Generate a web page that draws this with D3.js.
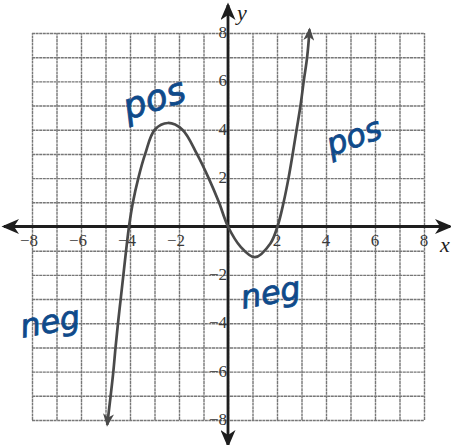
<!DOCTYPE html>
<html>
<head>
<meta charset="utf-8">
<script src="https://cdn.jsdelivr.net/npm/d3@7"></script>
<style>
  body { margin: 0; background: #fff; }
  svg { display: block; }
</style>
</head>
<body>
<svg id="chart" width="451" height="445"></svg>
<script>
// grid / tick values
var gridValues = d3.range(-8, 9, 1);
var xTickLabels = [-8, -6, -4, -2, 2, 4, 6, 8];
var yTickLabels = [8, 6, 4, 2, -2, -4, -6, -8];

// curve
var curveX = [-4.93, -4.79, -4.68, -4.59, -4.49, -4.38, -4.27, -4.16, -4.04, -3.88, -3.66, -3.38, -2.99, -2.45, -1.86, -1.27, -0.79, -0.37, 0, 0.51, 1.1, 1.73, 2.02, 2.27, 2.47, 2.64, 2.8, 2.96, 3.09, 3.23, 3.33];
var curveY = [-8.2, -7, -6, -5, -4, -3, -2, -1, 0, 1, 2, 3, 4, 4.28, 4, 3, 2, 1, 0, -0.83, -1.27, -0.7, 0, 1, 2, 3, 4, 5, 6, 7, 8.15];

// handwritten notes
var noteText = ["pos", "pos", "neg", "neg"];
var noteX = [-4.1, 4.2, -8.4, 0.6];
var noteY = [4.4, 2.9, -4.6, -3.4];
var noteAngle = [-18, -20, -10, -10];

var serif = "'Liberation Serif', 'Times New Roman', 'DejaVu Serif', serif";

var svg = d3.select("#chart");

var x = d3.scaleLinear().domain([-8, 8]).range([32, 424]);
var y = d3.scaleLinear().domain([-8, 8]).range([420, 33]);

// arrow markers
var defs = svg.append("defs");
function addArrow(id, color, w, h) {
  defs.append("marker")
    .attr("id", id)
    .attr("viewBox", "0 0 14 12")
    .attr("refX", 12)
    .attr("refY", 6)
    .attr("markerWidth", w)
    .attr("markerHeight", h)
    .attr("markerUnits", "userSpaceOnUse")
    .attr("orient", "auto-start-reverse")
    .append("path")
    .attr("d", "M0,0 L14,6 L0,12 L4,6 Z")
    .attr("fill", color);
}
addArrow("axisArrow", "#1e1e1e", 18, 15);
addArrow("curveArrow", "#4a4a4a", 13, 11);

// grid lines, one per unit
svg.append("g")
  .attr("transform", `translate(0, ${y(-8)})`)
  .call(d3.axisBottom(x).tickValues(gridValues).tickSize(-(y(-8) - y(8))).tickFormat(""));
svg.append("g")
  .attr("transform", `translate(${x(-8)}, 0)`)
  .call(d3.axisLeft(y).tickValues(gridValues).tickSize(-(x(8) - x(-8))).tickFormat(""));
svg.selectAll(".domain").remove();
svg.selectAll(".tick line")
  .attr("stroke", "#777")
  .attr("stroke-width", 1.4)
  .attr("stroke-dasharray", "3,0.6");

// tick labels
svg.append("g").selectAll("text")
  .data(xTickLabels)
  .enter()
  .append("text")
  .attr("font-family", serif)
  .attr("font-size", 17)
  .attr("fill", "#3a3a3a")
  .attr("x", d => x(d) - (d < 0 ? 3 : 0))
  .attr("y", y(0) + 19)
  .attr("text-anchor", "middle")
  .text(d => d < 0 ? "\u2212" + Math.abs(d) : d);

svg.append("g").selectAll("text")
  .data(yTickLabels)
  .enter()
  .append("text")
  .attr("font-family", serif)
  .attr("font-size", 17)
  .attr("fill", "#3a3a3a")
  .attr("x", x(0) - 1)
  .attr("y", d => y(d) + 5)
  .attr("text-anchor", "end")
  .text(d => d < 0 ? "\u2212" + Math.abs(d) : d);

// axes with arrows
svg.append("line")
  .attr("x1", 4).attr("x2", 450)
  .attr("y1", y(0)).attr("y2", y(0))
  .attr("stroke", "#1e1e1e")
  .attr("stroke-width", 2.8)
  .attr("marker-start", "url(#axisArrow)")
  .attr("marker-end", "url(#axisArrow)");

svg.append("line")
  .attr("x1", x(0)).attr("x2", x(0))
  .attr("y1", 5).attr("y2", 445)
  .attr("stroke", "#1e1e1e")
  .attr("stroke-width", 2.8)
  .attr("marker-start", "url(#axisArrow)")
  .attr("marker-end", "url(#axisArrow)");

svg.append("text")
  .attr("font-family", serif)
  .attr("font-style", "italic")
  .attr("font-size", 22)
  .attr("fill", "#1e1e1e")
  .attr("x", 440)
  .attr("y", y(0) + 25)
  .text("x");

svg.append("text")
  .attr("font-family", serif)
  .attr("font-style", "italic")
  .attr("font-size", 22)
  .attr("fill", "#1e1e1e")
  .attr("x", 237)
  .attr("y", 20)
  .text("y");

// the curve
var pts = curveX.map((d, i) => [d, curveY[i]]);
var line = d3.line()
  .x(d => x(d[0]))
  .y(d => y(d[1]))
  .curve(d3.curveCatmullRom.alpha(0.5));

svg.append("path")
  .datum(pts)
  .attr("d", line)
  .attr("fill", "none")
  .attr("stroke", "#4a4a4a")
  .attr("stroke-width", 2.7)
  .attr("marker-start", "url(#curveArrow)")
  .attr("marker-end", "url(#curveArrow)");

// handwritten notes
svg.append("g").selectAll("text")
  .data(noteText)
  .enter()
  .append("text")
  .attr("font-family", "'DejaVu Sans', sans-serif")
  .attr("font-style", "oblique")
  .attr("font-size", (d, i) => i === 0 ? 36 : 32)
  .attr("fill", "#0f4a8a")
  .attr("stroke", "#0f4a8a")
  .attr("stroke-width", 0.8)
  .attr("transform", (d, i) => `translate(${x(noteX[i])}, ${y(noteY[i])}) rotate(${noteAngle[i]})`)
  .text(d => d);
</script>
</body>
</html>
